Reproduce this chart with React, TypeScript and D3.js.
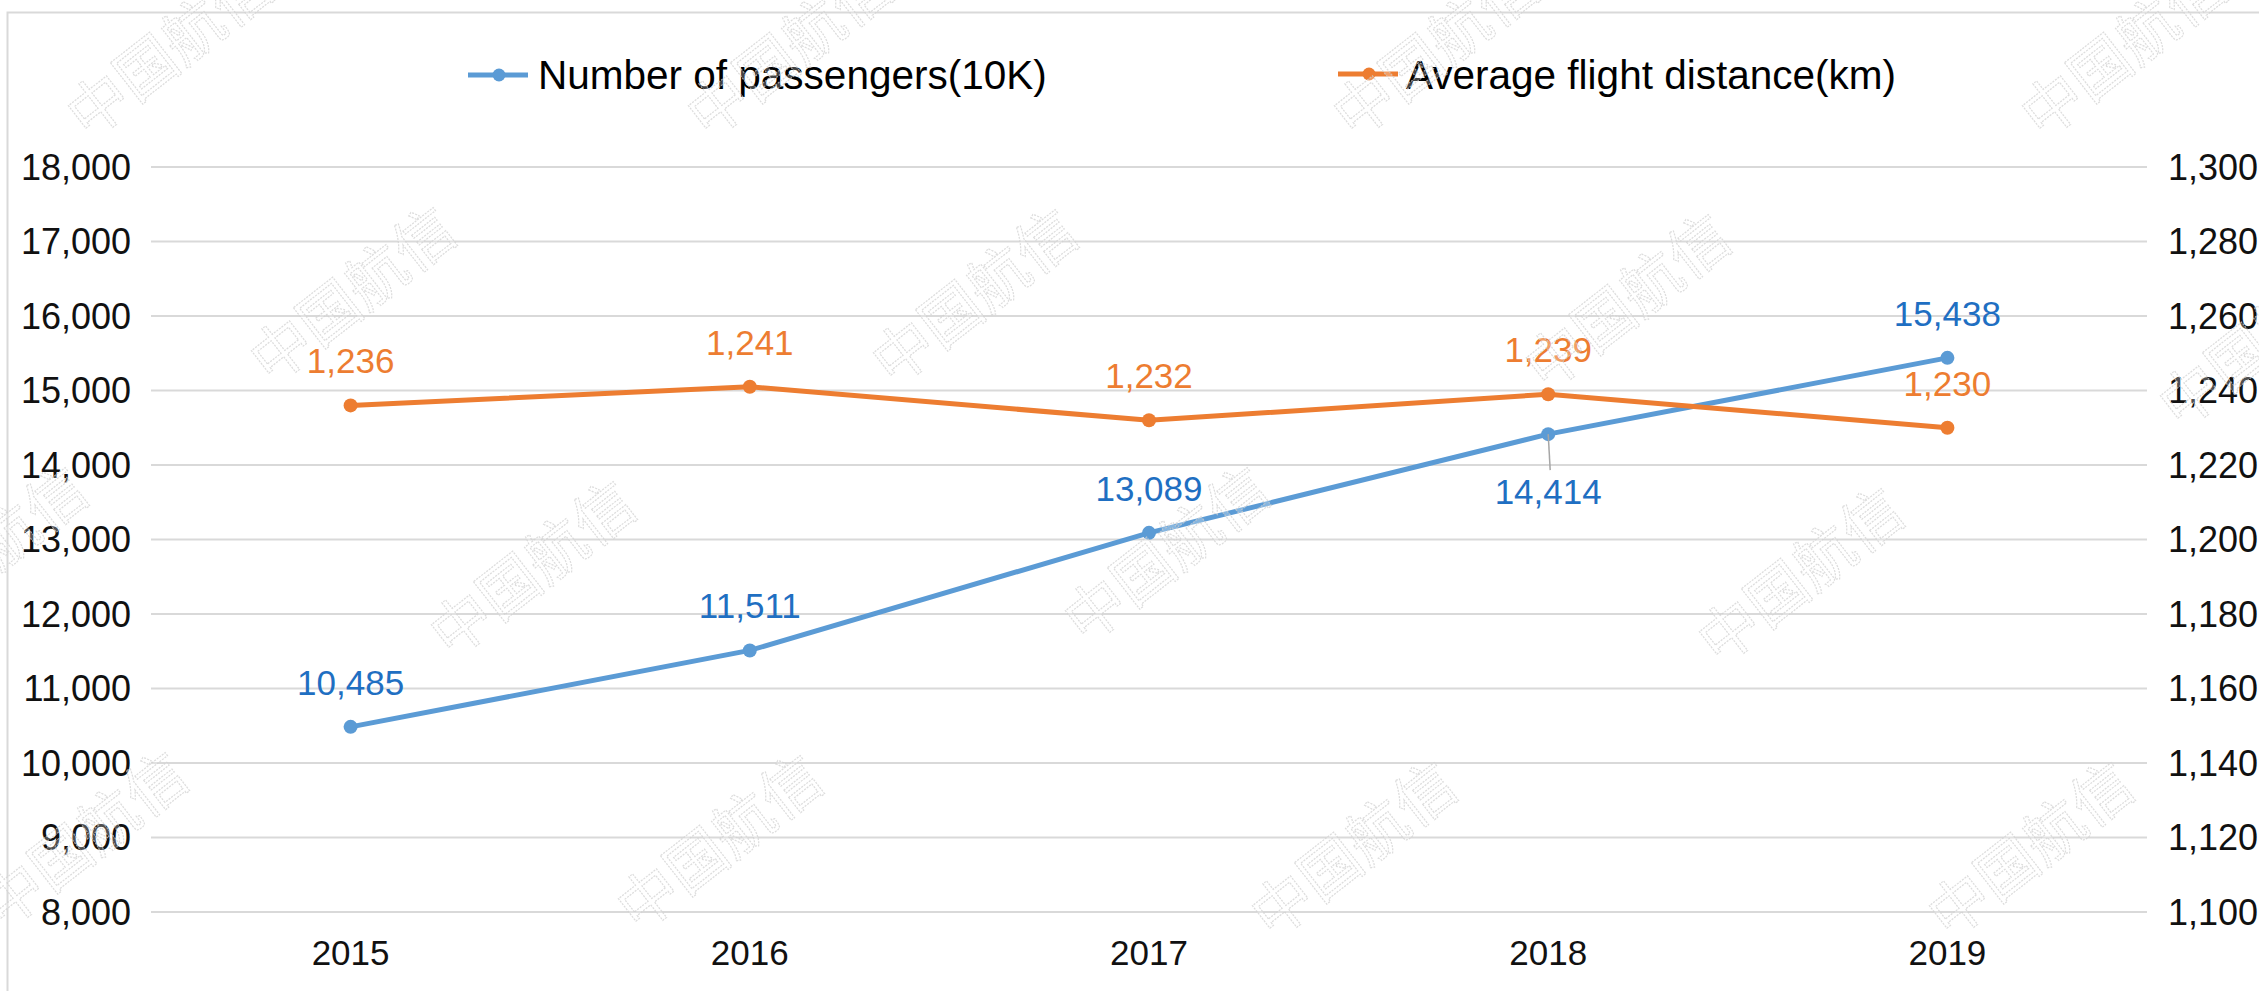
import { useEffect } from 'react';
import * as d3 from 'd3';

const years = ['2015', '2016', '2017', '2018', '2019'];
const passengers = [10485, 11511, 13089, 14414, 15438];
const distance = [1236, 1241, 1232, 1239, 1230];
const leftTicks = [8000, 9000, 10000, 11000, 12000, 13000, 14000, 15000, 16000, 17000, 18000];
const rightTicks = [1100, 1120, 1140, 1160, 1180, 1200, 1220, 1240, 1260, 1280, 1300];
const seriesNames = ['Number of passengers(10K)', 'Average flight distance(km)'];

// watermark spots (center x, y)
const watermarks: [number, number][] = [
  [170, 50], [790, 50], [1436, 50], [2124, 50],
  [353, 295], [975, 297], [1628, 302], [2262, 340],
  [-15, 555], [533, 569], [1167, 555], [1801, 576],
  [85, 840], [720, 843], [1354, 850], [2031, 850],
];

const W = 2259;
const H = 991;
const margin = { top: 167, right: W - 2147, bottom: H - 912, left: 151 };

const BLUE = '#5B9BD5';
const BLUE_TEXT = '#1F6FC2';
const ORANGE = '#ED7D31';
const FONT = '"Liberation Sans", Arial, sans-serif';

export default function App() {
  useEffect(() => {
    document.body.style.margin = '0';
  }, []);

  const x = d3.scaleBand<string>()
    .domain(years)
    .range([margin.left, W - margin.right]);
  const cx = (d: string) => (x(d) ?? 0) + x.bandwidth() / 2;

  const yL = d3.scaleLinear().domain([8000, 18000]).range([H - margin.bottom, margin.top]);
  const yR = d3.scaleLinear().domain([1100, 1300]).range([H - margin.bottom, margin.top]);
  const fmt = d3.format(',');

  const lineL = d3.line<number>()
    .x((d, i) => cx(years[i]))
    .y(d => yL(d));
  const lineR = d3.line<number>()
    .x((d, i) => cx(years[i]))
    .y(d => yR(d));

  return (
    <svg width={W} height={H} style={{ position: 'absolute', left: 0, top: 0, background: '#fff' }}>
      <rect x={7.5} y={12.5} width={W + 20} height={H + 20} fill="none" stroke="#d9d9d9" strokeWidth={2} />

      {/* grid */}
      {leftTicks.map(t => (
        <line key={t} x1={margin.left} x2={W - margin.right} y1={yL(t)} y2={yL(t)} stroke="#d9d9d9" strokeWidth={2} />
      ))}

      {/* left axis */}
      {leftTicks.map(t => (
        <text key={t} x={131} y={yL(t)} dy="0.35em" textAnchor="end" fontFamily={FONT} fontSize={36} fill="#111">
          {fmt(t)}
        </text>
      ))}

      {/* right axis */}
      {rightTicks.map(t => (
        <text key={t} x={2168} y={yR(t)} dy="0.35em" textAnchor="start" fontFamily={FONT} fontSize={36} fill="#111">
          {fmt(t)}
        </text>
      ))}

      {/* x axis */}
      {years.map(y => (
        <text key={y} x={cx(y)} y={965} textAnchor="middle" fontFamily={FONT} fontSize={35} fill="#111">
          {y}
        </text>
      ))}

      {/* series */}
      <path d={lineL(passengers) || ''} fill="none" stroke={BLUE} strokeWidth={5} />
      <path d={lineR(distance) || ''} fill="none" stroke={ORANGE} strokeWidth={5} />
      {passengers.map((v, i) => (
        <circle key={'p' + i} cx={cx(years[i])} cy={yL(v)} r={7} fill={BLUE} />
      ))}
      {distance.map((v, i) => (
        <circle key={'d' + i} cx={cx(years[i])} cy={yR(v)} r={7} fill={ORANGE} />
      ))}

      {/* data labels */}
      {passengers.map((v, i) => {
        const below = years[i] === '2018';
        const px = cx(years[i]);
        const py = yL(v);
        return (
          <g key={'pl' + i}>
            {below && <line x1={px} y1={py} x2={px + 2} y2={py + 36} stroke="#a6a6a6" strokeWidth={1.5} />}
            <text x={px} y={below ? py + 70 : py - 32} textAnchor="middle" fontFamily={FONT} fontSize={35} fill={BLUE_TEXT}>
              {fmt(v)}
            </text>
          </g>
        );
      })}
      {distance.map((v, i) => (
        <text key={'dl' + i} x={cx(years[i])} y={yR(v) - 32} textAnchor="middle" fontFamily={FONT} fontSize={35} fill={ORANGE}>
          {fmt(v)}
        </text>
      ))}

      {/* legend */}
      <g>
        <line x1={468} x2={528} y1={75} y2={75} stroke={BLUE} strokeWidth={5} />
        <circle cx={499} cy={75} r={6.5} fill={BLUE} />
        <text x={538} y={75} dy="0.35em" fontFamily={FONT} fontSize={40.5} fill="#000">{seriesNames[0]}</text>
        <line x1={1338} x2={1398} y1={74} y2={74} stroke={ORANGE} strokeWidth={5} />
        <circle cx={1369} cy={74} r={6.5} fill={ORANGE} />
        <text x={1406} y={75} dy="0.35em" fontFamily={FONT} fontSize={40.5} fill="#000">{seriesNames[1]}</text>
      </g>

      {/* watermark */}
      {watermarks.map(([wx, wy], i) => (
        <text
          key={'w' + i}
          transform={`translate(${wx},${wy}) rotate(-38)`}
          textAnchor="middle"
          dy="0.35em"
          fontFamily='"Noto Sans CJK SC", sans-serif'
          fontSize={60}
          fill="rgba(255,255,255,0.35)"
          stroke="#d2d2d2"
          strokeWidth={1.2}
          strokeDasharray="2 1.2"
          opacity={0.75}
        >
          中国航信
        </text>
      ))}
    </svg>
  );
}
